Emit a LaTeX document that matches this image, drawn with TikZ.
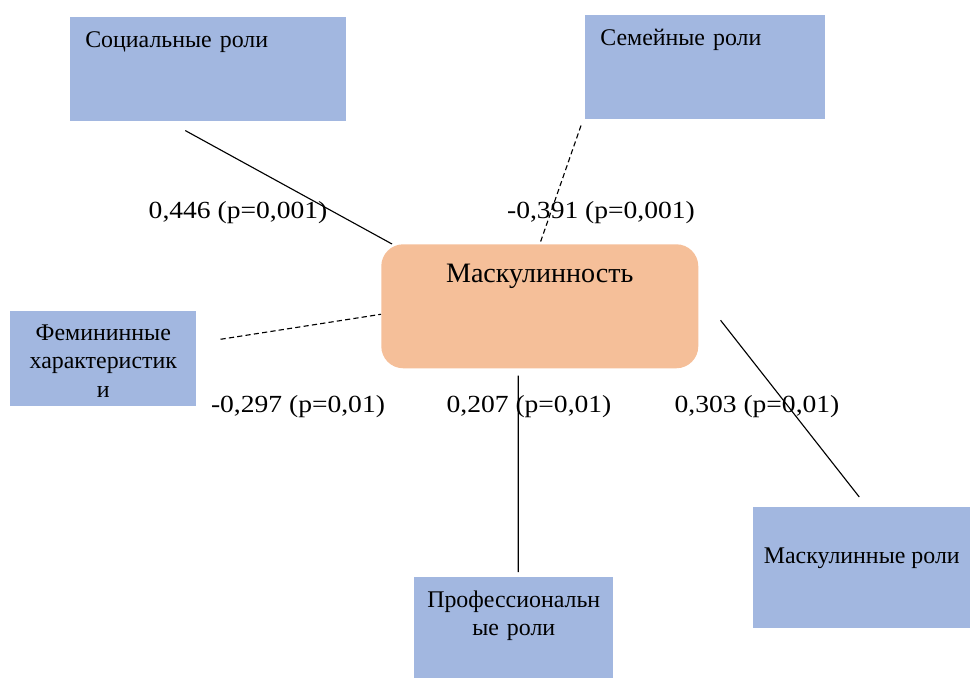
\documentclass[tikz,border=0pt]{standalone}
\usepackage{fontspec}
\setmainfont{Liberation Serif}
\newfontfamily\coeffont{Liberation Serif}[FakeStretch=1.12]
\usepackage{tikz}
\usetikzlibrary{positioning}

\definecolor{roleblue}{HTML}{A2B7E0}
\definecolor{mascorange}{HTML}{F5BF99}

\begin{document}
\begin{tikzpicture}[x=0.25mm, y=-0.25mm, font=\fontsize{17}{20.3}\selectfont,
    rolebox/.style={fill=roleblue, inner sep=0pt, anchor=north west},
    mainbox/.style={fill=mascorange, rounded corners=5.5mm, inner sep=0pt, anchor=north west,
        font=\fontsize{20}{22}\selectfont},
    poslink/.style={line width=0.8pt},
    neglink/.style={line width=0.8pt, dash pattern=on 1.3mm off 0.8mm},
    coef/.style={anchor=base, font=\coeffont\fontsize{17.5}{20}\selectfont}]
    \useasboundingbox (0,0) rectangle (970,678);

    \node[mainbox, minimum width=79.25mm, text height=9.5mm, text depth=21.5mm] (masc) at (381,244) {Маскулинность};
    \node[rolebox, inner xsep=3.75mm, text width=61.5mm, text height=7.5mm, text depth=18.5mm, align=left] (soc) at (70,17) {Социальные роли};
    \node[rolebox, inner xsep=3.75mm, text width=52.5mm, text height=7.5mm, text depth=18.5mm, align=left] (fam) at (585,15) {Семейные роли};
    \node[rolebox, text width=46.5mm, text height=7.25mm, text depth=16.5mm, align=center] (fem) at (10,311) {Фемининные\\характеристик\\и};
    \node[rolebox, text width=49.75mm, text height=7.5mm, text depth=17.75mm, align=center] (prof) at (414,577) {Профессиональн\\ые роли};
    \node[rolebox, minimum width=54.25mm, text height=14mm, text depth=16.25mm] (mrole) at (753,507) {Маскулинные роли};

    % coefficients
    \node[coef] (csoc) at (238,219) {0,446 (p=0,001)};
    \node[coef] (cfam) at (601,219) {-0,391 (p=0,001)};
    \node[coef] (cfem) at (298,412) {-0,297 (p=0,01)};
    \node[coef] (cprof) at (529,412) {0,207 (p=0,01)};
    \node[coef] (cmrole) at (757,412) {0,303 (p=0,01)};

    \draw[poslink] ([shift={(-23,9)}]soc.south) -- ([shift={(11,0)}]masc.north west);
    \draw[neglink] ([shift={(-4,6)}]fam.south west) -- (masc.north);
    \draw[neglink] ([shift={(24,-19.5)}]fem.east) -- ([shift={(0,8)}]masc.west);
    \draw[poslink] ([shift={(-21.5,7)}]masc.south) -- ([shift={(4.5,-5)}]prof.north);
    \draw[poslink] ([shift={(22,14)}]masc.east) -- ([shift={(-2.5,-10)}]mrole.north);
\end{tikzpicture}
\end{document}
